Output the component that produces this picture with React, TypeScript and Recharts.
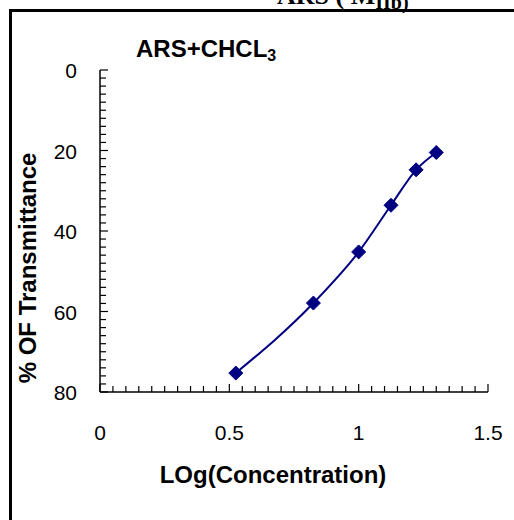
import React from "react";
import { LineChart, Line, XAxis, YAxis } from "recharts";

const logConc = [0.525, 0.825, 1.0, 1.125, 1.222, 1.3];
const transmittance = [75.3, 57.9, 45.2, 33.6, 24.8, 20.5];

const xTicks = Array.from({ length: 31 }, (_, i) => +(i * 0.05).toFixed(2));
const xLabels = [0, 0.5, 1, 1.5];
const yTicks = Array.from({ length: 41 }, (_, i) => i * 2);
const yLabels = [0, 20, 40, 60, 80];

const data = logConc.map((x, i) => ({ x, y: transmittance[i] }));

const FONT = "'Liberation Sans', Arial, Helvetica, sans-serif";

const isMajor = (list: number[], v: number) => list.some((l) => Math.abs(l - v) < 1e-6);

const XTick = (props: any) => {
  const { x, y, payload } = props;
  const v = payload.value;
  const major = isMajor(xLabels, v);
  return (
    <g>
      <line x1={x} x2={x} y1={y} y2={y - (major ? 8 : 6)} stroke="#000" strokeWidth={1.2} />
      {major && (
        <text x={x} y={y + 48} textAnchor="middle" fontSize={21} fontFamily={FONT} fill="#000">
          {v}
        </text>
      )}
    </g>
  );
};

const YTick = (props: any) => {
  const { x, y, payload } = props;
  const v = payload.value;
  const major = isMajor(yLabels, v);
  return (
    <g>
      <line x1={x} x2={x + (major ? 8 : 6)} y1={y} y2={y} stroke="#000" strokeWidth={1.2} />
      {major && (
        <text x={x - 23} y={y + 8} textAnchor="end" fontSize={21} fontFamily={FONT} fill="#000">
          {v}
        </text>
      )}
    </g>
  );
};

const Diamond = (props: any) => {
  const { cx, cy } = props;
  if (cx == null || cy == null) return null;
  const r = 7;
  return (
    <polygon
      points={`${cx},${cy - r} ${cx + r},${cy} ${cx},${cy + r} ${cx - r},${cy}`}
      fill="#000080"
      stroke="#000080"
    />
  );
};

export default function App() {
  return (
    <div style={{ position: "absolute", left: 0, top: 0, width: 514, height: 520, background: "#fff", overflow: "hidden" }}>
      <div
        style={{
          position: "absolute",
          left: 9,
          top: 9,
          width: 520,
          height: 530,
          borderLeft: "3px solid #000",
          borderTop: "3px solid #000",
          boxSizing: "border-box",
        }}
      />
      <div style={{ position: "absolute", left: 0, top: 0 }}>
        <LineChart width={514} height={520} data={data} margin={{ top: 70, right: 26, bottom: 68, left: 40 }}>
          <XAxis
            dataKey="x"
            type="number"
            domain={[0, 1.5]}
            ticks={xTicks}
            interval={0}
            tickLine={false}
            tickSize={0}
            tickMargin={0}
            height={60}
            axisLine={{ stroke: "#000", strokeWidth: 1.5 }}
            tick={<XTick />}
            allowDataOverflow
          />
          <YAxis
            dataKey="y"
            type="number"
            domain={[0, 80]}
            reversed
            ticks={yTicks}
            interval={0}
            tickLine={false}
            tickSize={0}
            tickMargin={0}
            width={60}
            axisLine={{ stroke: "#000", strokeWidth: 1.5 }}
            tick={<YTick />}
            allowDataOverflow
          />
          <Line
            type="monotone"
            dataKey="y"
            stroke="#000080"
            strokeWidth={2}
            dot={<Diamond />}
            activeDot={false}
            isAnimationActive={false}
          />
        </LineChart>
      </div>
      <svg width={514} height={520} style={{ position: "absolute", left: 0, top: 0, pointerEvents: "none" }}>
        <text x={277} y={4} fontFamily="'Liberation Serif', 'Times New Roman', serif" fontWeight="bold" fontSize={26} fill="#000">
          ARS ( M
          <tspan fontSize={20} dy={5}>IIb)</tspan>
        </text>
        <text x={136} y={57} fontFamily={FONT} fontWeight="bold" fontSize={24} fill="#000">
          ARS+CHCL
          <tspan fontSize={16} dy={4}>3</tspan>
        </text>
        <text x={273} y={483} textAnchor="middle" fontFamily={FONT} fontWeight="bold" fontSize={24} fill="#000">
          LOg(Concentration)
        </text>
        <text
          x={0}
          y={0}
          transform="translate(36,268) rotate(-90)"
          textAnchor="middle"
          fontFamily={FONT}
          fontWeight="bold"
          fontSize={24}
          fill="#000"
        >
          % OF Transmittance
        </text>
      </svg>
    </div>
  );
}
